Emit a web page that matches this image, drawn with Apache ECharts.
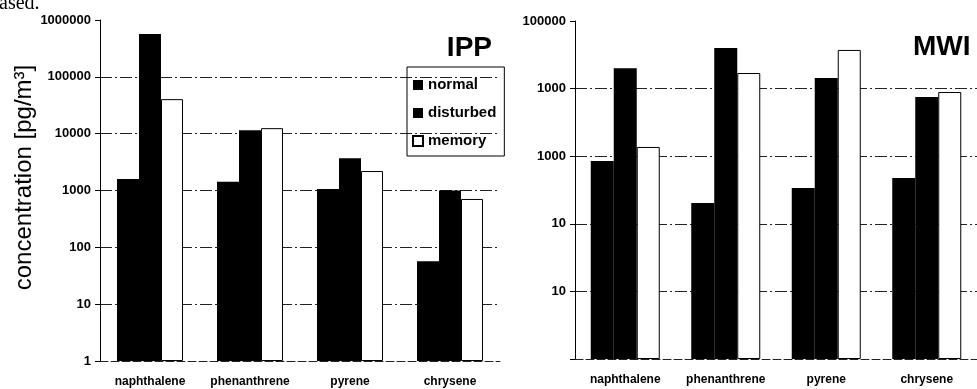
<!DOCTYPE html>
<html><head><meta charset="utf-8">
<script src="https://cdn.jsdelivr.net/npm/echarts/dist/echarts.min.js"></script>
<style>html,body{margin:0;padding:0;background:#fff}#c{width:977px;height:389px}</style>
</head><body><div id="c"></div>
<script>
const categories = ['naphthalene', 'phenanthrene', 'pyrene', 'chrysene'];
const seriesNames = ['normal', 'disturbed', 'memory'];
const ippNormal = [1600, 1420, 1060, 57];
const ippDisturbed = [567000, 11500, 3700, 1000];
const ippMemory = [40500, 12500, 2200, 710];
const mwiNormal = [850, 203, 338, 475];
const mwiDisturbed = [20000, 40000, 14400, 7500];
const mwiMemory = [1370, 17000, 37300, 8900];
const ippTickLabels = ['1', '10', '100', '1000', '10000', '100000', '1000000'];
const mwiTickLabels = ['', '10', '10', '1000', '1000', '100000'];
const panelTitles = ['IPP', 'MWI'];
const yTitle = 'concentration [pg/m\u00b3]';

const FONT = '"Liberation Sans", Arial, sans-serif';
const gridLine = { show: true, showMaxLine: false, showMinLine: false,
  lineStyle: { color: '#222', width: 1, type: [12, 3, 2, 3] } };

function yAxis(gi, max, labels, withName) {
  const ax = {
    type: 'log', logBase: 10, gridIndex: gi, min: 1, max: max,
    axisLine: { show: true, lineStyle: { color: '#000', width: 1 } },
    axisTick: { show: true, length: 5, lineStyle: { color: '#000' } },
    minorTick: { show: false },
    axisLabel: { color: '#000', fontFamily: FONT, fontWeight: 'bold', fontSize: 13, margin: 9,
      formatter: v => labels[Math.round(Math.log10(v))] },
    splitLine: gridLine
  };
  if (withName) {
    ax.name = yTitle;
    ax.nameLocation = 'middle';
    ax.nameRotate = 90;
    ax.nameGap = 64;
    ax.nameTextStyle = { fontSize: 24, fontFamily: FONT, color: '#000', padding: [0, 0, 0, 26] };
  }
  return ax;
}
function xAxis(gi) {
  return {
    type: 'category', gridIndex: gi, data: categories,
    axisLine: { show: true, lineStyle: { color: '#222', width: 1, type: [8, 3] } },
    axisTick: { show: false },
    axisLabel: { color: '#000', fontFamily: FONT, fontWeight: 'bold', fontSize: 12, margin: 15, interval: 0 }
  };
}
function bar(name, data, gi, fill, bw) {
  return {
    type: 'bar', name: name, data: data, xAxisIndex: gi, yAxisIndex: gi,
    barWidth: bw, barGap: '0%',
    itemStyle: { color: fill, borderColor: '#000', borderWidth: fill === '#fff' ? 1 : 0 },
    emphasis: { disabled: true }, animation: false
  };
}

const chart = echarts.init(document.getElementById('c'), null, { renderer: 'canvas' });
chart.setOption({
  backgroundColor: '#fff',
  animation: false,
  title: [
    { text: panelTitles[0], right: 485, top: 34, padding: 0,
      textStyle: { fontSize: 28, fontWeight: 'bold', fontFamily: FONT, color: '#000', lineHeight: 28 } },
    { text: panelTitles[1], left: 913, top: 33, padding: 0,
      textStyle: { fontSize: 28, fontWeight: 'bold', fontFamily: FONT, color: '#000', lineHeight: 28 } }
  ],
  graphic: [
    { type: 'text', left: -1, top: -6, silent: true,
      style: { text: 'ased.', font: '20px "Liberation Serif", "Times New Roman", serif', fill: '#000' } }
  ],
  legend: {
    data: seriesNames, orient: 'vertical', left: 407, top: 67,
    icon: 'rect', itemWidth: 10, itemHeight: 10, itemGap: 12,
    padding: [10, 8, 7, 5], borderColor: '#000', borderWidth: 1,
    textStyle: { fontSize: 15, fontWeight: 'bold', fontFamily: FONT, color: '#000', lineHeight: 16 },
    selectedMode: false
  },
  grid: [
    { left: 100, top: 20, width: 400, height: 341 },
    { left: 575, top: 21, width: 402, height: 338 }
  ],
  xAxis: [xAxis(0), xAxis(1)],
  yAxis: [yAxis(0, 1e6, ippTickLabels, true), yAxis(1, 1e5, mwiTickLabels, false)],
  series: [
    bar(seriesNames[0], ippNormal, 0, '#000', 22),
    bar(seriesNames[1], ippDisturbed, 0, '#000', 22),
    bar(seriesNames[2], ippMemory, 0, '#fff', 22),
    bar(seriesNames[0], mwiNormal, 1, '#000', 23),
    bar(seriesNames[1], mwiDisturbed, 1, '#000', 23),
    bar(seriesNames[2], mwiMemory, 1, '#fff', 23)
  ]
});
</script></body></html>
